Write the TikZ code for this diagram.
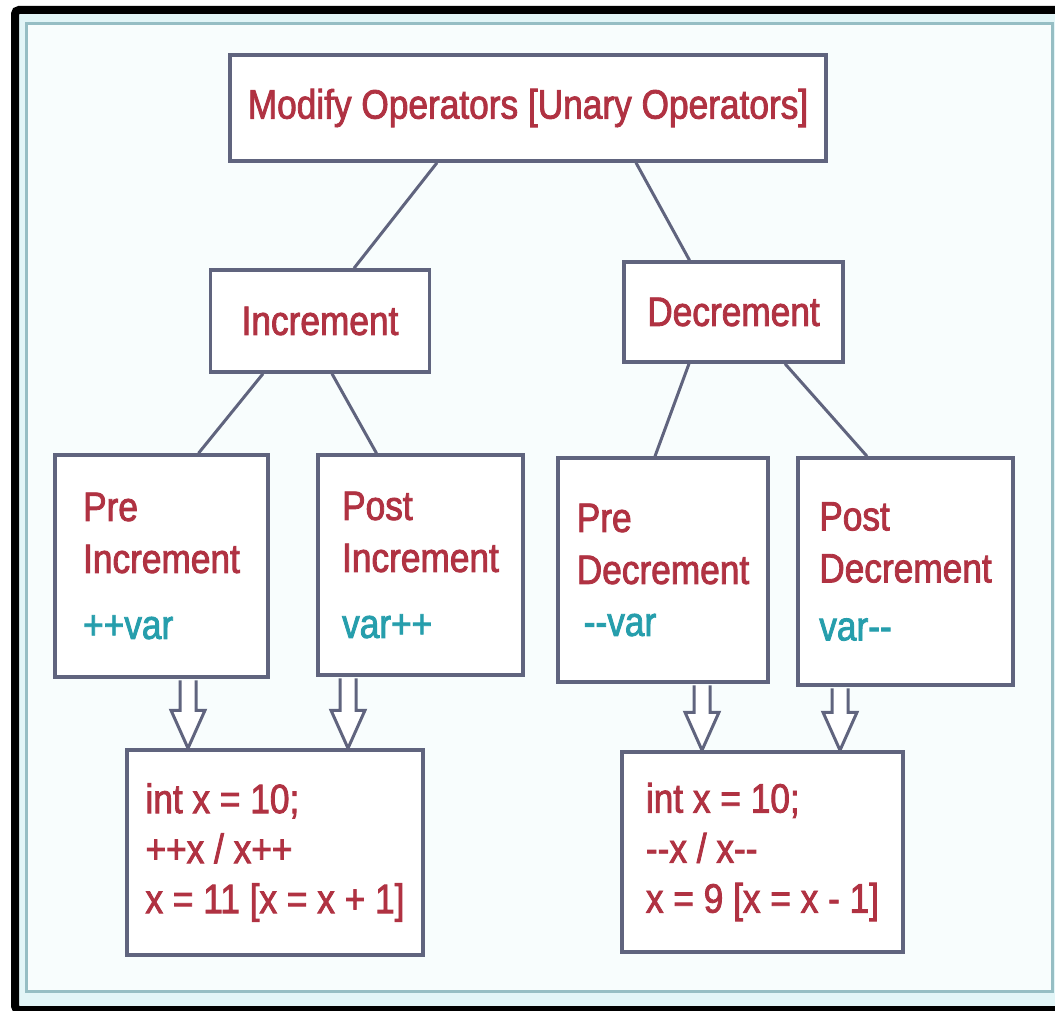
\documentclass[tikz,border=0pt]{standalone}
\usepackage{fontspec}
\newfontfamily\diagfont{Liberation Sans}[FakeStretch=0.86,FakeBold=2]
\usetikzlibrary{calc}

\definecolor{opred}{RGB}{176,50,66}
\definecolor{opteal}{RGB}{38,158,172}
\definecolor{boxline}{RGB}{96,100,126}
\definecolor{framefill}{RGB}{226,245,247}
\definecolor{panelline}{RGB}{150,190,196}
\definecolor{panelfill}{RGB}{248,253,253}

\tikzset{
  opbox/.style={draw=boxline, line width=3.5pt, fill=white, text=opred,
    font=\diagfont\fontsize{41}{52}\selectfont, align=left, inner sep=0pt},
  link/.style={draw=boxline, line width=3pt},
  hollow/.style={draw=boxline, line width=3pt, fill=white, line join=miter},
}

% hollow block arrow pointing down, from one anchor to another
\newcommand{\hollowdown}[2]{%
  \draw[hollow] let \p1=(#1), \p2=(#2) in
    (\x1-8pt,\y1-1.5pt) -- (\x1-8pt,\y2+38pt) -- (\x1-17pt,\y2+38pt) -- (\x2,\y2)
    -- (\x1+17pt,\y2+38pt) -- (\x1+8pt,\y2+38pt) -- (\x1+8pt,\y1-1.5pt);}

\begin{document}
\begin{tikzpicture}[x=1pt,y=-1pt]
  \useasboundingbox (0,0) rectangle (1055,1011);

  % frame and panel
  \draw[line width=8pt, rounded corners=4pt, fill=framefill] (15,10) rectangle (1062,1010);
  \draw[panelline, line width=3pt, fill=panelfill] (26,24) rectangle (1052,991);

  % boxes
  \node[opbox, minimum width=596pt, minimum height=106pt] (top) at (528,108)
    {Modify Operators [Unary Operators]};
  \node[opbox, minimum width=219pt, minimum height=102pt] (inc) at (320,321) {Increment};
  \node[opbox, minimum width=219pt, minimum height=100pt] (dec) at (733.5,312) {Decrement};

  \node[opbox, minimum width=213pt, minimum height=222pt] (preinc) at (161.5,566)
    {Pre\\Increment\\[14pt]\textcolor{opteal}{++var}};
  \node[opbox, minimum width=205pt, minimum height=220pt] (postinc) at (420.5,565)
    {Post\\Increment\\[14pt]\textcolor{opteal}{var++}};
  \node[opbox, minimum width=210pt, minimum height=224pt] (predec) at (663,570)
    {Pre\\Decrement\\[0pt]\hspace{7pt}\textcolor{opteal}{-\kern0pt-var}};
  \node[opbox, minimum width=215pt, minimum height=227pt] (postdec) at (905.5,571.5)
    {Post\\Decrement\\[6pt]\textcolor{opteal}{var-\kern0pt-}};

  \node[opbox, minimum width=296pt, minimum height=205pt, font=\diagfont\fontsize{41}{50}\selectfont]
    (resinc) at (275,852.5) {int x = 10;\\++x / x++\\x = 11 [x = x + 1]};
  \node[opbox, minimum width=281pt, minimum height=200pt, font=\diagfont\fontsize{41}{50}\selectfont]
    (resdec) at (762.5,852) {int x = 10;\\-\kern0pt-x / x-\kern0pt-\\x = 9 [x = x - 1]};

  % tree lines
  \draw[link] ([xshift=-91pt]top.south) -- ([xshift=34pt]inc.north);
  \draw[link] ([xshift=108pt]top.south) -- ([xshift=-44pt]dec.north);
  \draw[link] ([xshift=-57pt]inc.south) -- ([xshift=37pt]preinc.north);
  \draw[link] ([xshift=12pt]inc.south) -- ([xshift=-44pt]postinc.north);
  \draw[link] ([xshift=-44.5pt]dec.south) -- ([xshift=-8pt]predec.north);
  \draw[link] ([xshift=51.5pt]dec.south) -- ([xshift=-38.5pt]postdec.north);

  % hollow arrows down to the examples
  \hollowdown{[xshift=26.5pt]preinc.south}{[xshift=-87pt]resinc.north}
  \hollowdown{[xshift=-72.5pt]postinc.south}{[xshift=73pt]resinc.north}
  \hollowdown{[xshift=39pt]predec.south}{[xshift=-60.5pt]resdec.north}
  \hollowdown{[xshift=-65.5pt]postdec.south}{[xshift=77.5pt]resdec.north}
\end{tikzpicture}
\end{document}
